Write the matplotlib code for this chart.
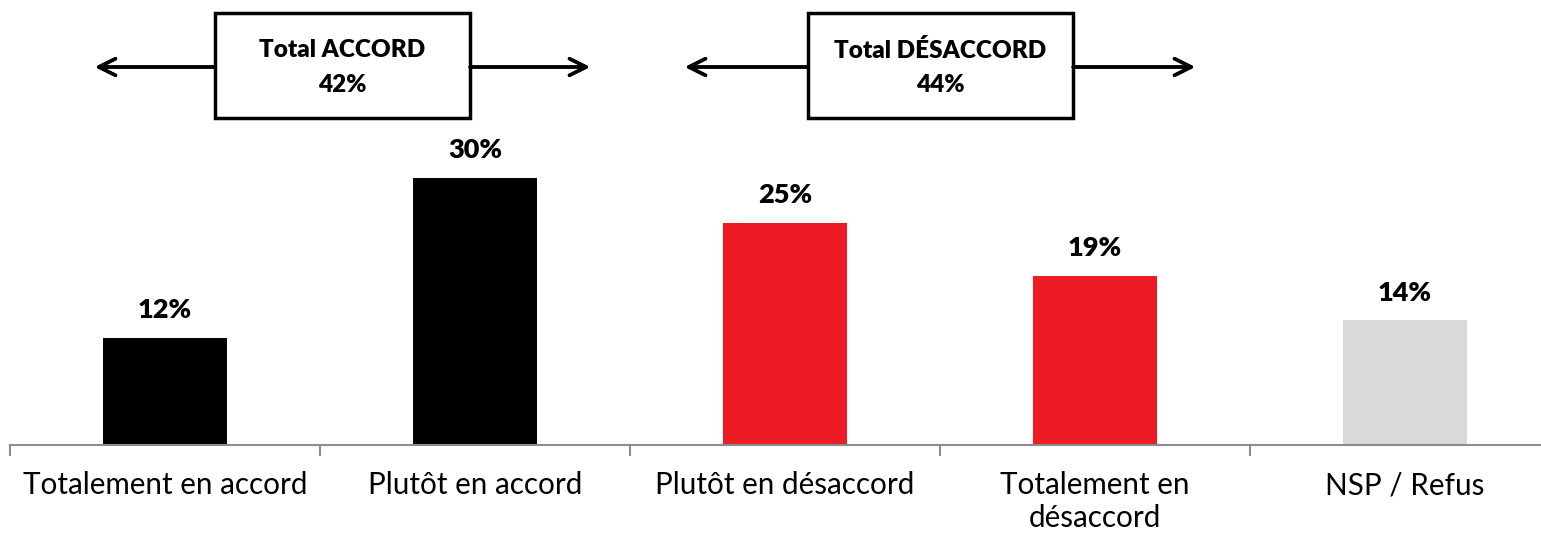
import matplotlib
matplotlib.use("Agg")
import matplotlib.pyplot as plt
from matplotlib.patches import Rectangle

plt.rcParams['font.family'] = ['Lato', 'DejaVu Sans']

categories = ["Totalement en accord", "Plutôt en accord", "Plutôt en désaccord",
              "Totalement en\ndésaccord", "NSP / Refus"]
values = [12, 30, 25, 19, 14]
colors = ["#000000", "#000000", "#ED1C24", "#ED1C24", "#D9D9D9"]
totals = [("Total ACCORD", 42), ("Total DÉSACCORD", 44)]

W, H = 1541, 535
fig = plt.figure(figsize=(W / 100, H / 100), dpi=100)

def px(x, y):
    # pixel coords (top-left origin) -> figure fraction
    return x / W, 1 - y / H

ax = fig.add_axes([10 / W, 90 / H, 1550 / W, 445 / H])
x = range(len(categories))
bars = ax.bar(x, values, width=0.4, color=colors)
for b, v in zip(bars, values):
    ax.annotate(f"{v}%", (b.get_x() + b.get_width() / 2, v), xytext=(0, 20),
                textcoords="offset points", ha="center", va="center",
                fontsize=19.5, fontweight="heavy")

ax.set_xlim(-0.5, 4.5)
ax.set_ylim(0, 50)
ax.set_xticks(list(x))
ax.set_xticklabels(categories, fontsize=21.3, linespacing=1.2)
ax.set_xticks([i - 0.5 for i in range(len(categories) + 1)], minor=True)
ax.tick_params(axis="x", which="major", length=0, pad=19)
ax.tick_params(axis="x", which="minor", length=8, width=1.5, color="#8C8C8C")
ax.set_yticks([])
for s in ["top", "right", "left"]:
    ax.spines[s].set_visible(False)
ax.spines["bottom"].set_color("#8C8C8C")
ax.spines["bottom"].set_linewidth(1.5)

# summary boxes with arrows
boxes = [(215, 470, 95, 590), (808, 1073, 685, 1195)]
for (label, tot), (x0, x1, tl, tr) in zip(totals, boxes):
    fx0, fy0 = px(x0, 118)
    fx1, fy1 = px(x1, 13)
    fig.patches.append(Rectangle((fx0, fy0), fx1 - fx0, fy1 - fy0, transform=fig.transFigure,
                                 facecolor="white", edgecolor="black", linewidth=2.5))
    for a, b in [(x0, tl), (x1, tr)]:
        fig.add_artist(plt.annotate("", xy=px(b, 67), xytext=px(a, 67), xycoords="figure fraction",
                                    arrowprops=dict(arrowstyle="->", lw=2.5, color="black",
                                                    mutation_scale=30, shrinkA=0, shrinkB=0)))
    cx = (x0 + x1) / 2
    fig.text(*px(cx, 50), label, ha="center", va="center",
             fontsize=17.5, fontweight="heavy")
    fig.text(*px(cx, 85), f"{tot}%", ha="center", va="center",
             fontsize=17.5, fontweight="heavy")

fig.savefig("out.png", dpi=100)
